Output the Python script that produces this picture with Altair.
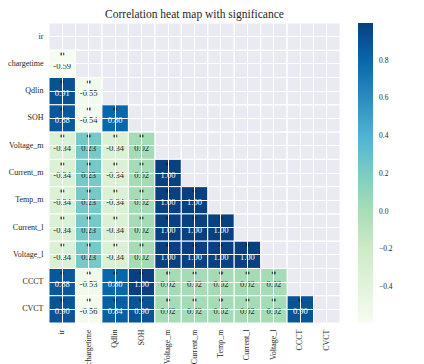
import altair as alt
import pandas as pd
import numpy as np

names = ["ir", "chargetime", "Qdlin", "SOH", "Voltage_m", "Current_m",
         "Temp_m", "Current_l", "Voltage_l", "CCCT", "CVCT"]

# lower-triangle correlations, row by row (row i has i values)
lower = [
    [],
    [-0.59],
    [0.91, -0.55],
    [0.88, -0.54, 0.80],
    [-0.34, 0.23, -0.34, 0.02],
    [-0.34, 0.23, -0.34, 0.02, 1.00],
    [-0.34, 0.23, -0.34, 0.02, 1.00, 1.00],
    [-0.34, 0.23, -0.34, 0.02, 1.00, 1.00, 1.00],
    [-0.34, 0.23, -0.34, 0.02, 1.00, 1.00, 1.00, 1.00],
    [0.88, -0.53, 0.80, 1.00, 0.02, 0.02, 0.02, 0.02, 0.02],
    [0.90, -0.56, 0.84, 0.90, 0.02, 0.02, 0.02, 0.02, 0.02, 0.90],
]
stars = "*"
cbar_ticks = [-0.4, -0.2, 0.0, 0.2, 0.4, 0.6, 0.8]
vmin, vmax = -0.59, 1.0
gnbu = ["#f7fcf0", "#e0f3db", "#ccebc5", "#a8ddb5", "#7bccc4",
        "#4eb3d3", "#2b8cbe", "#0868ac", "#084081"]

rows = []
for i, r in enumerate(names):
    for j, c in enumerate(lower[i]):
        rows.append({"row": r, "col": names[j], "value": c,
                     "label": f"{c:.2f}", "star": stars})
df = pd.DataFrame(rows)
allcells = pd.DataFrame([{"row": r, "col": c} for r in names for c in names])

FONT = "Liberation Serif"
W, H = 291, 300
cdomain = [float(v) for v in np.linspace(vmin, vmax, len(gnbu))]

xenc = alt.X("col:N", sort=names, title=None,
             scale=alt.Scale(paddingInner=0, paddingOuter=0),
             axis=alt.Axis(labelAngle=270, labelFont=FONT, labelFontSize=8,
                           labelColor="#262626", ticks=False, domain=False,
                           labelPadding=6, grid=True, gridColor="white",
                           gridWidth=1, bandPosition=0.5))
yenc = alt.Y("row:N", sort=names, title=None,
             scale=alt.Scale(paddingInner=0, paddingOuter=0),
             axis=alt.Axis(labelFont=FONT, labelFontSize=8, labelColor="#262626",
                           ticks=False, domain=False, labelPadding=6,
                           grid=True, gridColor="white", gridWidth=1,
                           bandPosition=0.5))

edges = alt.Chart(allcells).mark_rect(fill="transparent", stroke="white",
                                      strokeWidth=1).encode(x=xenc, y=yenc)

heat = alt.Chart(df).mark_rect(stroke="white", strokeWidth=1, opacity=1).encode(
    x=xenc, y=yenc,
    color=alt.Color("value:Q",
                    scale=alt.Scale(domain=cdomain, range=gnbu,
                                    interpolate="rgb"),
                    legend=alt.Legend(title=None, orient="none", legendX=309,
                                      legendY=0, direction="vertical",
                                      gradientLength=H, gradientThickness=15,
                                      values=cbar_ticks, format=".1f",
                                      labelFont=FONT, labelFontSize=7.5,
                                      labelColor="#262626", labelOffset=6,
                                      gradientStrokeWidth=0)),
)

txt = alt.Chart(df).mark_text(font=FONT, fontSize=8.5, dy=2).encode(
    x=xenc, y=yenc, text="label:N",
    color=alt.condition(alt.datum.value > 0.5, alt.value("white"),
                        alt.value("#262626")),
)
star = alt.Chart(df).mark_text(font=FONT, fontSize=10, dy=-7.5,
                               fontWeight="bold").encode(
    x=xenc, y=yenc, text="star:N", color=alt.value("#1a1a1a"))

chart = alt.layer(edges, heat, txt, star).properties(
    width=W, height=H,
    title=alt.TitleParams("Correlation heat map with significance", font=FONT,
                          fontSize=11.5, fontWeight="normal", color="#262626",
                          offset=2, anchor="middle"),
    autosize=alt.AutoSizeParams(type="none"),
    padding={"left": 41, "top": 15, "right": 68, "bottom": 41},
).configure_view(fill="#EAEAF2", stroke=None)

chart.save("out.html", embed_options={"renderer": "svg", "actions": False})
